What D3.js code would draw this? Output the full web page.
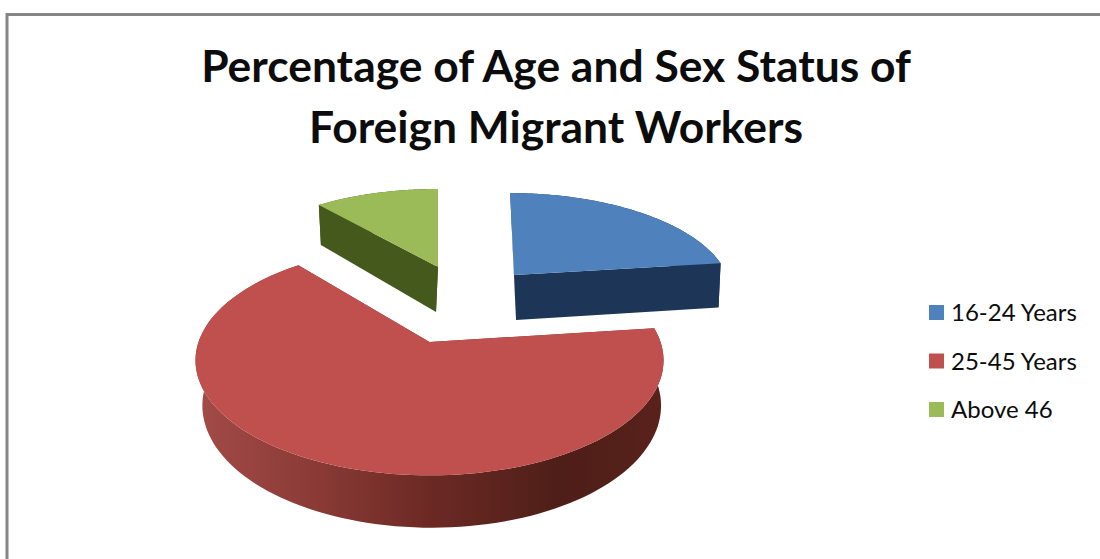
<!DOCTYPE html>
<html>
<head>
<meta charset="utf-8">
<script src="https://cdn.jsdelivr.net/npm/d3@7/dist/d3.min.js"></script>
<style>
html,body{margin:0;padding:0;background:#fff;overflow:hidden}
svg{display:block}
text{font-family:Lato,"Open Sans",sans-serif;fill:#0c0c0c}
</style>
</head>
<body>
<svg id="chart" width="1100" height="559"></svg>
<script>
const titleLines = ["Percentage of Age and Sex Status of", "Foreign Migrant Workers"];
const categories = ["16-24 Years", "25-45 Years", "Above 46"];
const shares = [23, 66, 11];
const topColors = ["#4f81bd", "#c0504d", "#9bbb59"];
const wallColors = ["#1d3557", "#7a302c", "#45591c"];

// Each exploded wedge sits on its own apex; the disc is foreshortened with a slight perspective.
// The lower face shrinks about vx by the factor vs, and lean tilts the wedge toward the back.
const wedgeLayout = [
  {ax: 514, ay: 275, rx: 213, ry: 95, depth: 45, vx: 615, vs: 0.98, lean: 4.5},
  {ax: 429.5, ay: 342, rx: 231, ry: 112, depth: 44, vx: 540, vs: 0.98, lean: 0},
  {ax: 438, ay: 267, rx: 210, ry: 90.5, depth: 45, vx: 380, vs: 0.966, lean: 0}
];
const perspective = 0.16;

const svg = d3.select("#chart");

svg.append("rect")
  .attr("x", 7).attr("y", 14.5).attr("width", 1200).attr("height", 700)
  .attr("fill", "#fff").attr("stroke", "#868686").attr("stroke-width", 3);

svg.append("g").selectAll("text").data(titleLines).join("text")
  .attr("x", 556).attr("y", (d, i) => 82 + i * 61)
  .attr("text-anchor", "middle")
  .attr("font-size", 44.4).attr("font-weight", 700)
  .text(d => d);

const pie = d3.pie().sort(null).value(d => d);
const arcs = pie(shares);

function project(w, u, v, lower) {
  const s = 1 / (1 - perspective * v);
  let x = w.ax + (w.rx * u + w.lean * v) * s;
  let y = w.ay + w.ry * v * s;
  if (lower) {
    y += w.depth * s;
    x = w.vx + (x - w.vx) * w.vs;
  }
  return [x, y];
}
const rimPoint = (w, a, lower) => project(w, Math.sin(a), -Math.cos(a), lower);
const rimAngles = (a0, a1) => d3.range(0, 121).map(i => a0 + (a1 - a0) * i / 120);
const line = d3.line();

// Horizontal shading along the curved wall of the large wedge.
const defs = svg.append("defs");
const grad = defs.append("linearGradient").attr("id", "wallShade")
  .attr("gradientUnits", "userSpaceOnUse")
  .attr("x1", 195).attr("x2", 665).attr("y1", 0).attr("y2", 0);
[[0, "#a34b48"], [0.25, "#8b3b36"], [0.5, "#6c2924"], [0.78, "#4e1e18"], [1, "#5a211b"]]
  .forEach(([o, c]) => grad.append("stop").attr("offset", o).attr("stop-color", c));

// Back-to-front order: green, blue, then the large red wedge.
[2, 0, 1].forEach(i => {
  const w = wedgeLayout[i], arc = arcs[i];
  const g = svg.append("g");
  const apexT = project(w, 0, 0, false), apexB = project(w, 0, 0, true);
  const angles = rimAngles(arc.startAngle, arc.endAngle);
  const top = angles.map(a => rimPoint(w, a, false));
  const bottom = angles.map(a => rimPoint(w, a, true));

  // outer curved wall
  g.append("path")
    .attr("d", line(top.concat(bottom.slice().reverse())) + "Z")
    .attr("fill", i === 1 ? "url(#wallShade)" : wallColors[i]);
  // radial cut walls
  [[top[0], bottom[0]], [top[120], bottom[120]]].forEach(([t, b]) => {
    g.append("path")
      .attr("d", line([apexT, t, b, apexB]) + "Z")
      .attr("fill", wallColors[i]);
  });
  // top face
  g.append("path")
    .attr("d", line([apexT].concat(top)) + "Z")
    .attr("fill", topColors[i]);
});

const legend = svg.append("g").selectAll("g").data(categories).join("g")
  .attr("transform", (d, i) => `translate(929,${305 + i * 48.5})`);
legend.append("rect").attr("width", 15).attr("height", 15)
  .attr("fill", (d, i) => topColors[i]);
legend.append("text").attr("x", 22).attr("y", 16)
  .attr("font-size", 24).text(d => d);
</script>
</body>
</html>
